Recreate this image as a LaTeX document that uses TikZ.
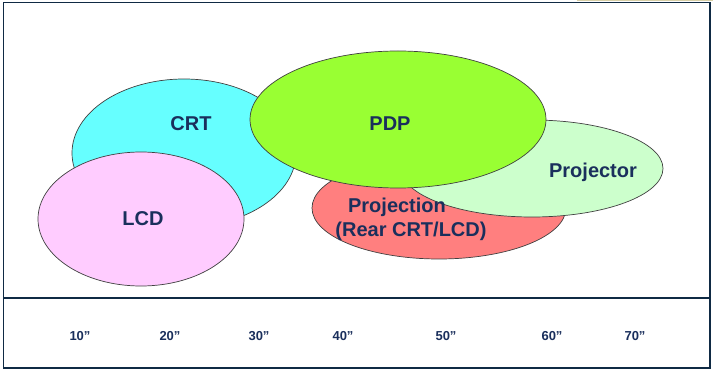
\documentclass[tikz,border=0pt]{standalone}
\usepackage{fontspec}
\setmainfont{Liberation Sans}
\begin{document}
\begin{tikzpicture}[x=1pt,y=-1pt,
  blob/.style={draw=black!75,line width=0.7pt},
  lbl/.style={font=\fontsize{20}{22}\selectfont\bfseries,text=txt,align=center},
  tick/.style={font=\fontsize{13}{14}\selectfont\bfseries,text=txt}]
\definecolor{txt}{HTML}{1A2F5C}
\definecolor{frame}{HTML}{0F2A44}
\definecolor{crt}{HTML}{66FFFF}
\definecolor{lcd}{HTML}{FFCCFF}
\definecolor{pdp}{HTML}{99FF33}
\definecolor{proj}{HTML}{FF7F7F}
\definecolor{projr}{HTML}{CCFFCC}
\definecolor{tan}{HTML}{D8CFA6}
\useasboundingbox (0,0) rectangle (713,371);
\fill[white] (0,0) rectangle (713,371);
\fill[tan] (577,0) rectangle (713,1.2);
\draw[frame,line width=1.4pt] (3.6,2.8) rectangle (710,368);
\draw[frame,line width=1.2pt] (3.6,298) -- (710,298);
% ellipses
\draw[blob,fill=crt] (184,153) ellipse [x radius=112,y radius=74];
\draw[blob,fill=lcd] (141,219) ellipse [x radius=103,y radius=67];
\draw[blob,fill=proj] (439,208) ellipse [x radius=127,y radius=51];
\draw[blob,fill=projr] (532,168.5) ellipse [x radius=131,y radius=48.5];
\draw[blob,fill=pdp] (398,119.5) ellipse [x radius=148,y radius=68.5];
% labels
\node[lbl] (crtl) at (191,124) {CRT};
\node[lbl] (pdpl) at (390,124) {PDP};
\node[lbl] (projrl) at (593,172) {Projector};
\node[lbl] (lcdl) at (143,219) {LCD};
\node[lbl] (projl) at (397,207) {Projection};
\node[lbl] (rearl) at (411,231) {(Rear CRT/LCD)};
% axis ticks
\node[tick] (t10) at (80,336) {10”};
\node[tick] (t20) at (170,336) {20”};
\node[tick] (t30) at (259,336) {30”};
\node[tick] (t40) at (343,336) {40”};
\node[tick] (t50) at (446,336) {50”};
\node[tick] (t60) at (552,336) {60”};
\node[tick] (t70) at (635,336) {70”};
\end{tikzpicture}
\end{document}
